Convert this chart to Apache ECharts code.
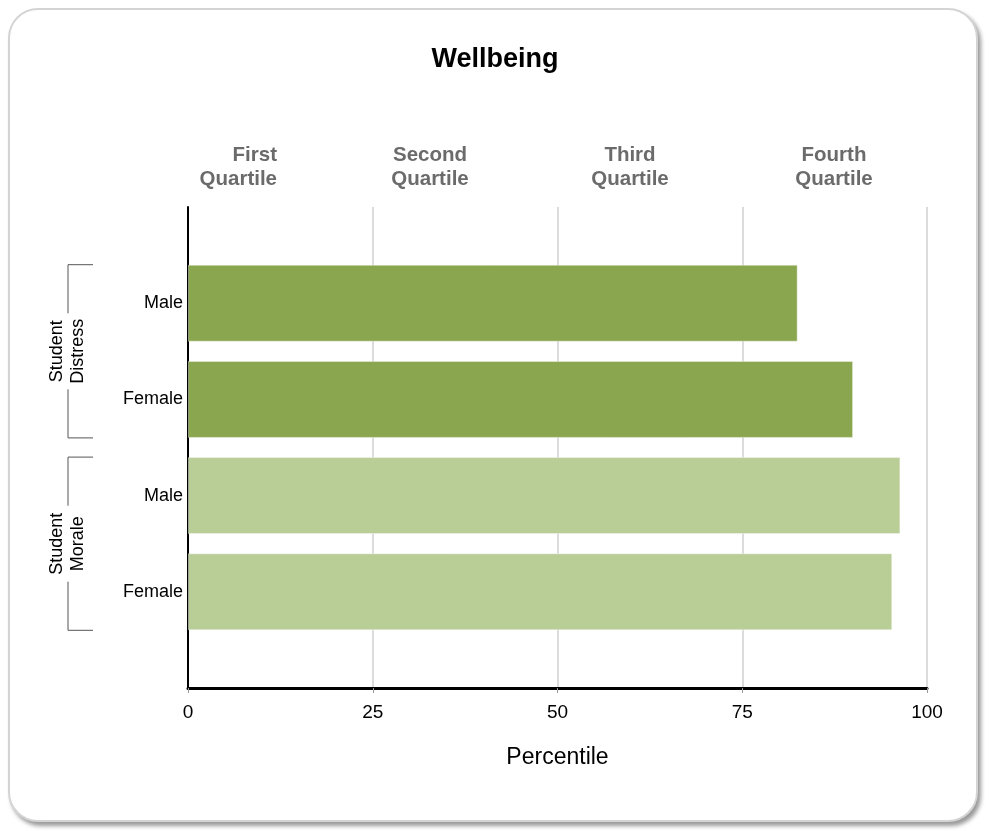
<!DOCTYPE html>
<html>
<head>
<meta charset="utf-8">
<script src="https://cdn.jsdelivr.net/npm/echarts@6/dist/echarts.min.js"></script>
<style>
  html, body { margin: 0; padding: 0; background: #fff; }
  .wrap { position: relative; width: 990px; height: 831px; }
  .panel {
    position: absolute; left: 8px; top: 8px; width: 966px; height: 810px;
    border: 2px solid #d4d4d4; border-radius: 30px; background: #fff;
    box-shadow: 3px 4px 4px #9a9a9a;
  }
  #chart { position: absolute; left: 0; top: 0; width: 990px; height: 831px; }
</style>
</head>
<body>
<div class="wrap">
  <div class="panel"></div>
  <div id="chart"></div>
</div>
<script>
// blank slots top and bottom give the padding inside the plot
const categories = ['', 'Male', 'Female', 'Male', 'Female', ' '];
const values = [null, 82.5, 90.0, 96.4, 95.3, null];
const barColors = [null, '#8aa64f', '#8aa64f', '#b9cd96', '#b9cd96', null];
const groups = [
  { label: 'Student\nDistress', from: 1, to: 2 },
  { label: 'Student\nMorale', from: 3, to: 4 }
];
const quartileLabels = ['First\nQuartile', 'Second\nQuartile', 'Third\nQuartile', 'Fourth\nQuartile'];
const xTicks = [0, 25, 50, 75, 100];

const FONT = 'Liberation Sans, Arial, sans-serif';
const chart = echarts.init(document.getElementById('chart'));

// the first header is right aligned in the original, the rest centred
const quartileX = [277, 430, 630, 834];
const quartileAlign = ['right', 'center', 'center', 'center'];
const graphics = [];
quartileLabels.forEach((t, i) => {
  graphics.push({
    type: 'text', x: quartileX[i], y: 143,
    style: {
      text: t, fontFamily: FONT, fontSize: 20.5, fontWeight: 'bold',
      fill: '#6b6b6b', textAlign: quartileAlign[i], lineHeight: 24
    }
  });
});

const option = {
  animation: false,
  title: {
    text: 'Wellbeing', left: 'center', top: 41,
    textStyle: { fontFamily: FONT, fontSize: 27, fontWeight: 'bold', color: '#000' }
  },
  grid: { left: 188, right: 63, top: 207, bottom: 143 },
  xAxis: {
    type: 'value', min: 0, max: 100, interval: 25,
    name: 'Percentile', nameLocation: 'middle', nameGap: 58,
    nameTextStyle: { fontFamily: FONT, fontSize: 23, color: '#000' },
    axisLine: { show: true, lineStyle: { color: '#000', width: 3 } },
    axisTick: { show: true, length: 5, lineStyle: { color: '#999' } },
    axisLabel: { fontFamily: FONT, fontSize: 19, color: '#000', margin: 15,
      formatter: v => xTicks.includes(v) ? String(v) : '' },
    splitLine: { show: true, lineStyle: { color: '#dcdcdc', width: 2 } }
  },
  yAxis: {
    type: 'category', data: categories, inverse: true, boundaryGap: false,
    axisLine: { show: true, onZero: false, lineStyle: { color: '#000', width: 2 } },
    axisTick: { show: false },
    axisLabel: { fontFamily: FONT, fontSize: 18, color: '#000', margin: 5 },
    splitLine: { show: false }
  },
  series: [{
    type: 'bar',
    barWidth: 77,
    data: values.map((v, i) => v == null ? null : {
      value: v,
      itemStyle: { color: barColors[i], borderColor: 'rgba(255,255,255,0.4)', borderWidth: 1 }
    })
  }],
  graphic: graphics
};
chart.setOption(option);

// group brackets on the left, placed through the axis scale
function drawBrackets() {
  const els = graphics.slice();
  const half = 77 / 2;
  groups.forEach(g => {
    const y0 = chart.convertToPixel({ yAxisIndex: 0 }, g.from) - half;
    const y1 = chart.convertToPixel({ yAxisIndex: 0 }, g.to) + half;
    const mid = (y0 + y1) / 2;
    const x = 68, xr = 93, gap = 38;
    const ls = { stroke: '#555', lineWidth: 1 };
    els.push({ type: 'polyline', shape: { points: [[xr, y0], [x, y0], [x, mid - gap]] }, style: Object.assign({ fill: null }, ls) });
    els.push({ type: 'polyline', shape: { points: [[x, mid + gap], [x, y1], [xr, y1]] }, style: Object.assign({ fill: null }, ls) });
    els.push({
      type: 'text', x: x, y: mid, rotation: Math.PI / 2,
      style: { text: g.label, fontFamily: FONT, fontSize: 18, fill: '#000',
        textAlign: 'center', textVerticalAlign: 'middle', lineHeight: 21 }
    });
  });
  chart.setOption({ graphic: els }, { replaceMerge: ['graphic'] });
}
drawBrackets();
</script>
</body>
</html>
